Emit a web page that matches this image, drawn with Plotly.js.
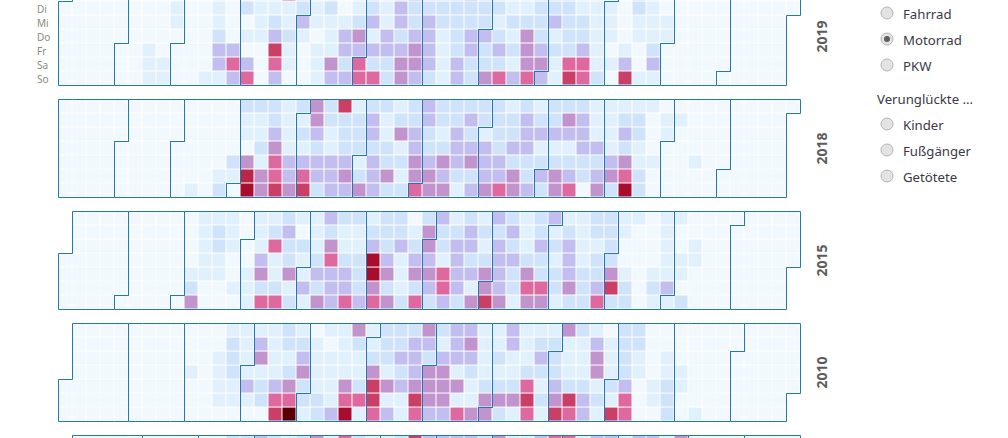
<!DOCTYPE html>
<html lang="de">
<head>
<meta charset="utf-8">
<script src="https://cdn.plot.ly/plotly-3.0.1.min.js"></script>
<style>
html,body{margin:0;padding:0;width:1008px;height:438px;overflow:hidden;background:#fff}
#chart{position:absolute;left:0;top:-20px;width:1008px;height:580px}
</style>
</head>
<body>
<div id="chart"></div>
<script>
// Tage: Montag..Sonntag, Wochenspalten 0..52, Farbstufen 0..8
const weekdays = ['Mo','Di','Mi','Do','Fr','Sa','So'];
const years = [2019, 2018, 2015, 2010, 2005];
const yearLabels = [2019, 2018, 2015, 2010];
const vehicles = ['Fahrrad','Motorrad','PKW'];
const victims = ['Kinder','Fußgänger','Getötete'];
const groupTitle = 'Verunglückte ...';
const classColors = ['#f1f9fe','#e0f1fd','#cfe3fb','#c2bff0','#c294cd','#dd699f','#c93f65','#a80d2e','#5a0000'];

const z2019 = [
 [0,0,0,0,0,0,0,0,0,0, 0,1,0,1,1,1,5,2,1,1, 0,1,2,1,2,3,2,2,2,3, 2,2,1,1,2,2,2,1,1,1, 0,2,1,0,0,0,0,0,0,0, 0,0,0],
 [0,0,0,0,0,0,0,0,1,0, 0,1,0,2,1,1,1,2,1,2, 0,1,2,1,3,2,2,2,2,2, 2,2,1,1,2,2,2,1,1,1, 0,2,1,0,0,0,0,0,0,0, 0,0,0],
 [0,0,0,0,0,0,0,0,1,0, 0,1,0,0,1,2,1,3,1,1, 1,2,3,1,3,2,3,2,2,2, 2,1,2,2,2,3,2,2,1,1, 0,1,1,1,0,0,0,0,0,0, 0,0,0],
 [0,0,0,0,0,0,0,0,0,0, 0,2,0,1,1,3,2,1,0,1, 3,4,1,3,2,3,3,1,2,3, 3,2,1,4,2,1,2,2,1,1, 0,1,1,1,0,0,0,0,0,0, 0,0,0],
 [0,0,0,0,0,0,1,0,0,0, 0,3,3,0,0,6,1,0,1,1, 3,3,3,3,3,4,3,1,2,3, 2,3,2,4,3,2,2,3,1,0, 1,0,2,0,0,0,0,0,0,0, 0,0,0],
 [0,0,0,0,0,0,1,1,0,0, 0,3,5,3,0,5,1,0,1,4, 2,5,2,2,4,4,3,1,3,2, 2,2,1,4,4,1,5,5,1,1, 3,0,3,0,0,0,0,0,0,0, 0,0,0],
 [0,0,0,0,0,0,1,1,0,0, 1,1,3,5,0,3,0,0,1,3, 3,5,5,2,4,3,2,1,3,2, 4,5,3,5,3,1,6,5,2,0, 6,1,1,0,0,0,0,0,0,0, 0,0,0]
];
const z2018 = [
 [0,0,0,0,0,0,0,0,0,0, 0,0,0,2,2,2,1,2,4,2, 6,1,2,2,1,2,3,2,2,2, 2,2,1,2,1,2,2,2,1,1, 1,1,1,0,0,0,0,0,0,0, 0,0,0],
 [0,0,0,0,0,0,0,0,0,0, 0,0,0,1,1,2,1,1,4,2, 2,2,3,1,2,2,3,2,2,3, 2,2,2,3,2,2,4,3,1,1, 2,2,0,1,1,0,0,0,0,0, 0,0,0],
 [0,0,0,0,0,0,0,0,0,0, 0,0,0,1,1,3,1,2,3,1, 2,2,3,1,4,3,2,1,3,2, 1,2,2,3,3,3,3,3,1,1, 3,2,0,1,0,0,0,0,0,0, 0,0,0],
 [0,0,0,0,0,0,0,0,0,0, 0,0,0,0,2,4,1,1,2,1, 2,2,2,2,1,3,2,2,3,3, 3,2,3,3,1,1,1,3,3,1, 2,1,0,0,0,0,0,0,0,0, 0,0,0],
 [0,0,0,0,0,0,0,0,0,0, 0,0,2,4,1,5,3,3,3,3, 3,1,3,2,2,4,3,4,3,4, 3,3,2,2,2,2,2,2,2,3, 4,1,1,0,0,1,0,0,0,0, 0,0,0],
 [0,0,0,0,0,0,0,0,0,0, 0,1,1,6.5,4,5,3,5,3,3, 4,2,3,4,1,4,4,3,2,2, 3,3,4,2,3,4,3,2,3,4, 5,2,0,0,0,0,0,0,0,0, 0,0,0],
 [0,0,0,0,0,0,0,0,0,1, 0,2,0,7,4,6,4,6,2,3, 3,4,3,2,2,5,4,4,1,3, 4,5,4,3,2,4,5,0,4,2, 7,2,0,0,0,0,0,0,0,0, 0,0,0]
];
const z2015 = [
 [0,0,0,0,0,0,0,0,0,0, 1,1,1,0,1,1,2,1,1,3, 2,2,1,2,2,0,2,3,1,2, 1,3,2,1,2,3,1,1,2,2, 1,1,0,1,1,0,0,0,0,0, 0,0,0],
 [0,0,0,0,0,0,0,0,0,0, 1,2,1,0,1,2,3,0,1,2, 1,1,2,2,2,1,4,2,2,3, 2,2,3,1,2,1,2,1,2,2, 1,0,0,1,0,0,0,0,0,0, 0,0,0],
 [0,0,0,0,0,0,0,0,0,0, 1,2,1,0,1,5,2,2,1,4, 1,1,3,2,3,2,4,2,3,3, 1,3,2,1,3,2,3,1,1,2, 0,0,0,1,0,1,0,0,0,0, 0,0,0],
 [0,0,0,0,0,0,0,0,0,0, 1,1,0,0,3,1,2,1,2,5, 2,2,7,3,1,3,3,1,3,2, 2,3,3,2,2,1,3,1,2,2, 0,0,0,1,1,1,0,0,0,0, 0,0,0],
 [0,0,0,0,0,0,0,0,0,1, 1,1,0,1,4,1,4,1,3,3, 3,2,7,4,1,4,4,5,3,3, 4,3,2,4,2,2,3,2,2,4, 1,0,1,1,1,0,0,0,0,0, 0,0,0],
 [0,0,0,0,0,0,0,0,0,2, 0,0,1,1,2,2,1,3,2,3, 3,2,4,2,1,2,3,5,3,1, 4,3,2,5,5,2,4,2,3,6, 2,0,2,3,0,0,0,0,0,0, 0,0,0],
 [0,0,0,0,0,0,0,0,0,4, 0,0,0,1,5,5,2,1,4,3, 5,3,5,4,2,5,2,3,2,4, 6,4,1,4,4,1,2,2,5,2, 2,0,1,1,2,0,0,0,0,0, 0,0,0]
];
const z2010 = [
 [0,0,0,0,0,0,0,0,0,0, 0,0,1,1,1,1,2,1,0,1, 1,4,1,2,2,2,4,2,3,3, 1,1,3,1,1,1,4,2,1,0, 2,2,0,0,0,0,0,0,0,0, 0,0,0],
 [0,0,0,0,0,0,0,0,0,0, 0,0,2,1,3,1,2,2,1,0, 1,2,1,2,2,3,3,1,3,4, 1,1,3,1,2,2,1,1,3,1, 2,2,0,0,0,0,0,0,0,0, 0,0,0],
 [0,0,0,0,0,0,0,0,0,0, 0,1,2,1,4,1,1,3,1,1, 1,1,2,2,3,3,2,3,3,3, 1,2,1,1,3,2,1,1,4,1, 2,1,0,1,0,0,0,0,0,0, 0,0,0],
 [0,0,0,0,0,0,0,0,0,1, 0,1,2,1,1,1,2,4,1,1, 1,1,4,1,2,3,4,4,1,2, 1,1,1,2,2,2,1,1,4,1, 2,1,0,1,1,0,0,0,0,0, 0,0,0],
 [0,0,0,0,0,0,0,0,0,0, 0,1,1,3,2,3,4,2,1,1, 4,2,6,4,3,4,4,4,4,1, 2,2,2,5,1,3,2,2,1,2, 3,0,1,2,1,0,0,0,0,0, 0,0,0],
 [0,0,0,0,0,0,0,0,0,0, 0,1,1,1,2,5,5,2,2,1, 5,5,6,1,1,6,4,4,1,1, 4,4,4,6,2,4,6,3,2,1, 5,0,1,2,0,0,0,0,0,0, 0,0,0],
 [0,0,0,0,0,0,0,0,0,0, 0,0,0,0,0,6,8,1,2,3, 7,1,5,3,1,5,3,3,5,4, 4,2,1,5,1,6,5,3,1,6, 5,0,0,2,0,1,0,0,0,0, 0,0,0]
];
// 2005: nur die oberste Zeile ragt ins Bild
const z2005 = [
 [0,0,0,0,0,0,0,0,0,0, 0,0,2,2,3,2,1,2,4,1, 5,2,1,1,2,6,3,3,3,3, 2,4,1,1,3,5,5,1,3,3, 1,3,3,1,4,0,0,0,0,0, 0,0,0],
 new Array(53).fill(0), new Array(53).fill(0), new Array(53).fill(0),
 new Array(53).fill(0), new Array(53).fill(0), new Array(53).fill(0)
];
const yearData = {2019:z2019, 2018:z2018, 2015:z2015, 2010:z2010, 2005:z2005};

// Layout in Pixeln (Seite ist um offsetTop nach oben verschoben)
const W = 1008, H = 580, offsetTop = 20;
const CELL = 14, left = 58.5, firstTop = -12.5, rowStep = 112, pad = 0.08;
const fx = px => px / W;
const fy = py => 1 - (py + offsetTop) / H;

function dayInfo(y, m, d) { // Spalte und Wochentag eines Datums
  const t = Date.UTC(y, m, d);
  const jan1 = new Date(Date.UTC(y, 0, 1));
  const offs = (jan1.getUTCDay() + 6) % 7;
  const doy = Math.round((t - Date.UTC(y, 0, 1)) / 864e5);
  return {col: Math.floor((doy + offs) / 7), wd: (new Date(t).getUTCDay() + 6) % 7};
}
function inYearMask(y, z) {
  const jan = dayInfo(y, 0, 1), dec = dayInfo(y, 11, 31);
  return z.map((row, r) => row.map((v, c) =>
    ((c === 0 && r < jan.wd) || c > dec.col || (c === dec.col && r > dec.wd)) ? null : v));
}
function monthPath(y, m) {
  const a = dayInfo(y, m, 1);
  const b = dayInfo(y, m, new Date(Date.UTC(y, m + 1, 0)).getUTCDate());
  const X = c => c - 0.5, Y = r => r - 0.5;
  return `M${X(a.col + 1)},${Y(0)}H${X(b.col + 1)}V${Y(b.wd + 1)}H${X(b.col)}V${Y(7)}H${X(a.col)}V${Y(a.wd)}H${X(a.col + 1)}Z`;
}

const colorscale = classColors.map((c, i) => [i / (classColors.length - 1), c]);
const traces = [], shapes = [], annotations = [];
const layout = {
  width: W, height: H, autosize: false,
  margin: {l: 0, r: 0, t: 0, b: 0},
  paper_bgcolor: '#fff', plot_bgcolor: '#fff',
  showlegend: false, dragmode: false,
  font: {family: '"Noto Sans", sans-serif'}
};
const lineBlue = '#2478b0';

years.forEach((y, i) => {
  const sfx = i === 0 ? '' : String(i + 1);
  const xa = 'x' + sfx, ya = 'y' + sfx;
  const top = firstTop + i * rowStep;
  traces.push({
    type: 'heatmap', xaxis: xa, yaxis: ya,
    z: inYearMask(y, yearData[y]),
    x: yearData[y][0].map((_, c) => c), y: weekdays.map((_, r) => r),
    zmin: 0, zmax: classColors.length - 1, colorscale,
    showscale: false, xgap: 1, ygap: 1, hoverongaps: false,
    hovertemplate: y + ' Woche %{x}, %{y}: %{z}<extra></extra>'
  });
  layout['xaxis' + sfx] = {
    domain: [fx(left - pad * CELL), fx(left + 53 * CELL + pad * CELL)],
    range: [-0.5 - pad, 52.5 + pad], anchor: ya, visible: false, fixedrange: true
  };
  layout['yaxis' + sfx] = {
    domain: [fy(top + 7 * CELL + pad * CELL), fy(top - pad * CELL)],
    range: [6.5 + pad, -0.5 - pad], anchor: xa, visible: false, fixedrange: true
  };
  for (let m = 0; m < 12; m++) {
    shapes.push({type: 'path', xref: xa, yref: ya, path: monthPath(y, m),
      line: {color: lineBlue, width: 1}, layer: 'above'});
  }
  if (yearLabels.includes(y)) annotations.push({
    text: '<b>' + y + '</b>', xref: 'paper', yref: ya, x: fx(821), y: 3,
    textangle: -90, showarrow: false, xanchor: 'center', yanchor: 'middle',
    font: {size: 14, color: '#5b5b5b', family: '"Noto Sans", sans-serif'}
  });
});

// Wochentage links vom ersten Block (die Montagszeile liegt oberhalb des Bildes)
weekdays.slice(1).forEach((d, r) => annotations.push({
  text: d, xref: 'paper', yref: 'y', x: fx(35), y: r + 1, xanchor: 'left', yanchor: 'middle',
  showarrow: false, font: {size: 10, color: '#8a8a80'}
}));

// Auswahlfelder
function radio(label, cy, checked) {
  const cx = 887, rr = 6;
  shapes.push({type: 'circle', xref: 'paper', yref: 'paper',
    x0: fx(cx - rr), x1: fx(cx + rr), y0: fy(cy + rr), y1: fy(cy - rr),
    fillcolor: '#e3e3e3', line: {color: '#b4b4b4', width: 1}});
  if (checked) shapes.push({type: 'circle', xref: 'paper', yref: 'paper',
    x0: fx(cx - 3), x1: fx(cx + 3), y0: fy(cy + 3), y1: fy(cy - 3),
    fillcolor: '#5e5e62', line: {width: 0}});
  annotations.push({text: label, xref: 'paper', yref: 'paper', x: fx(900.5), y: fy(cy + 1),
    xanchor: 'left', yanchor: 'middle', showarrow: false,
    font: {size: 13.2, color: '#3a3a48'}});
}
const vehicleY = [13, 39, 65], victimY = [124, 150, 176];
vehicles.forEach((v, i) => radio(v, vehicleY[i], v === 'Motorrad'));
victims.forEach((v, i) => radio(v, victimY[i], false));
annotations.push({text: groupTitle, xref: 'paper', yref: 'paper', x: fx(874.5), y: fy(99),
  xanchor: 'left', yanchor: 'middle', showarrow: false, font: {size: 13.2, color: '#3a3a48'}});

layout.shapes = shapes;
layout.annotations = annotations;
Plotly.newPlot('chart', traces, layout, {displayModeBar: false, responsive: false, staticPlot: true});
</script>
</body>
</html>
